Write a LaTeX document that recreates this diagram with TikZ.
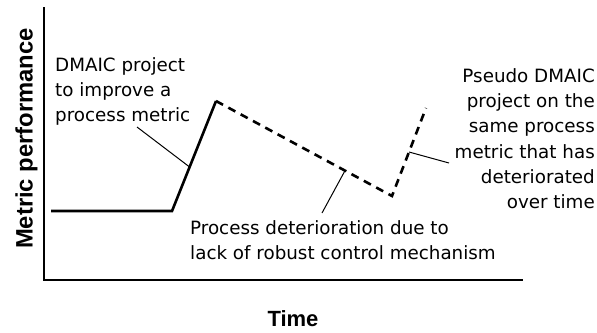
\documentclass[tikz,border=0pt]{standalone}
\usepackage{fontspec}
\setmainfont{DejaVu Sans}
\newfontfamily\labelbold{Liberation Sans Bold}
\usetikzlibrary{calc}

\tikzset{
  axisline/.style={line width=2pt, line cap=rect},
  trendline/.style={line width=2.6pt, line join=miter},
  driftline/.style={line width=2.6pt, dash pattern=on 8pt off 6pt},
  leader/.style={line width=1pt},
  note/.style={inner sep=0pt, font=\fontsize{18.3}{25.2}\selectfont},
  axislabel/.style={inner sep=0pt, font=\labelbold\fontsize{22}{26}\selectfont}
}

\begin{document}
\begin{tikzpicture}[x=1pt, y=-1pt]
  \useasboundingbox (0,0) rectangle (597,332);

  % axes
  \coordinate (ytop) at (44,8);
  \coordinate (origin) at (44,280);
  \coordinate (xend) at (522,280);
  \draw[axisline] (ytop) -- (origin) -- (xend);

  % metric trace
  \coordinate (start) at (51,211);
  \coordinate (kick) at (172,211);
  \coordinate (peak) at (216,101);
  \coordinate (trough) at (392,196);
  \coordinate (rebound) at (426,108);
  \draw[trendline] (start) -- (kick) -- (peak);
  \draw[driftline] (peak) -- (trough) -- (rebound);

  % labels (base anchor of a multi-line node sits on its last line)
  \node[note, anchor=base west, align=left] (dmaic) at (55,121.5)
    {DMAIC project\\to improve a\\process metric};
  \node[note, anchor=base west, align=left] (decay) at (190,259.5)
    {Process deterioration due to\\lack of robust control mechanism};
  \node[note, anchor=base east, align=right] (pseudo) at (595,208.5)
    {Pseudo DMAIC\\project on the\\same process\\metric that has\\deteriorated\\over time};

  \node[axislabel, anchor=base] (tlabel) at (293,326.5) {Time};
  \node[axislabel, rotate=90, anchor=base, font=\labelbold\fontsize{23.8}{28}\selectfont]
    (mlabel) at (32.5,138.5) {Metric performance};

  % leader lines
  \coordinate (dmaicfoot) at (137,127);
  \coordinate (decayfoot) at (322,213);
  \coordinate (pseudofoot) at (449,163);
  \draw[leader] (dmaicfoot) -- ($(kick)!0.4!(peak)$);
  \draw[leader] (decayfoot) -- ($(peak)!0.733!(trough)$);
  \draw[leader] (pseudofoot) -- ($(trough)!0.5!(rebound)$);
\end{tikzpicture}
\end{document}
